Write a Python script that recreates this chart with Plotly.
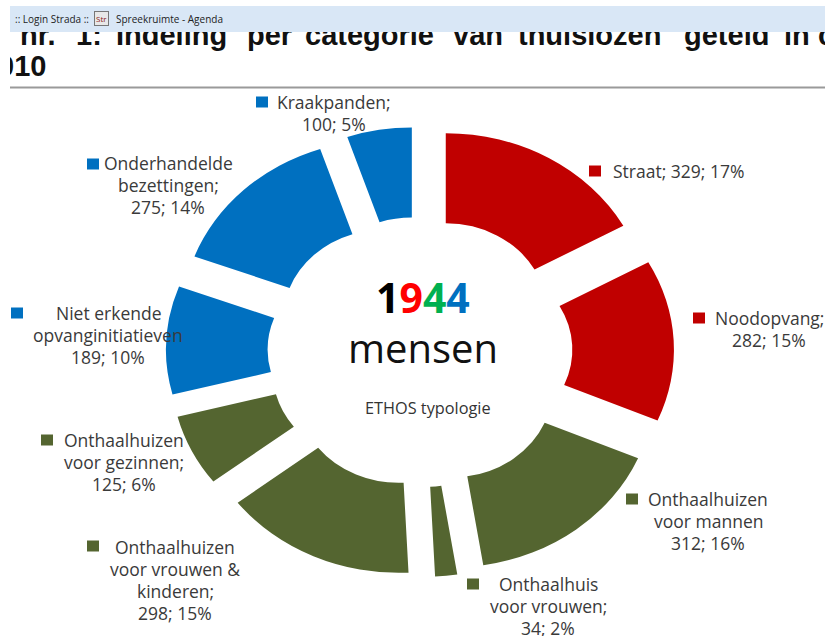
import plotly.graph_objects as go

categories = ["Straat", "Noodopvang", "Onthaalhuizen voor mannen", "Onthaalhuis voor vrouwen",
              "Onthaalhuizen voor vrouwen & kinderen", "Onthaalhuizen voor gezinnen",
              "Niet erkende opvanginitiatieven", "Onderhandelde bezettingen", "Kraakpanden"]
values = [329, 282, 312, 34, 298, 125, 189, 275, 100]
RED, GREEN, BLUE = "#C00000", "#546530", "#0070C0"
colors = [RED, RED, GREEN, GREEN, GREEN, GREEN, BLUE, BLUE, BLUE]

# label text, centre x, centre y, legend-square x, square y (pixels)
labels = [
    ("Straat; 329; 17%", 678, 171, 595, 171),
    ("Noodopvang;<br>282; 15%", 769, 329, 699, 318),
    ("Onthaalhuizen<br>voor mannen<br>312; 16%", 708, 521, 632, 499),
    ("Onthaalhuis<br>voor vrouwen;<br>34; 2%", 548, 606, 473, 584),
    ("Onthaalhuizen<br>voor vrouwen &<br>kinderen;<br>298; 15%", 175, 580, 93, 546),
    ("Onthaalhuizen<br>voor gezinnen;<br>125; 6%", 124, 462, 47, 440),
    ("Niet erkende<br>opvanginitiatieven<br>189; 10%", 108, 335, 17, 313),
    ("Onderhandelde<br>bezettingen;<br>275; 14%", 168, 185, 93, 164),
    ("Kraakpanden;<br>100; 5%", 334, 113, 262, 102),
]

heading_words = ["nr.", "1:", "Indeling", "per", "categorie", "van", "thuislozen", "geteld", "in", "c", "010"]
heading_x = [20, 76, 116, 247, 305, 453, 518, 684, 784, 818, -2]
heading_y = [38, 38, 38, 38, 38, 38, 38, 38, 38, 38, 69]

W, H = 825, 636
CX, CY, HALF = 420, 352, 240
SX, SY = 254 / 240, 225 / 240
TXT = "#3A3A3A"
FONT = "Open Sans"
LINE = 22

fig = go.Figure()
fig.add_trace(go.Scatter(x=heading_x, y=heading_y, text=heading_words, mode="text",
                         textposition="middle right", hoverinfo="skip", showlegend=False, cliponaxis=True,
                         textfont=dict(family="Liberation Sans", size=29, color="#111111", weight="bold")))
fig.add_trace(go.Pie(labels=categories, values=values, sort=False, direction="clockwise", rotation=0,
                     hole=0.5, pull=0.25, textinfo="none", showlegend=False,
                     marker=dict(colors=colors, line=dict(width=0)),
                     domain=dict(x=[(CX - HALF) / W, (CX + HALF) / W],
                                 y=[(H - CY - HALF) / H, (H - CY + HALF) / H])))

shapes = [
    dict(type="rect", x0=10, x1=825, y0=6, y1=32, fillcolor="#D9E7F6", line_width=0, layer="above"),
    dict(type="rect", x0=0, x1=10, y0=0, y1=636, fillcolor="white", line_width=0, layer="above"),
    dict(type="line", x0=10, x1=825, y0=87.5, y1=87.5, line=dict(color="#9A9A9A", width=2), layer="above"),
]
annotations = [
    dict(x=13, y=19, text=":: Login Strada ::", xanchor="left", font=dict(size=10, family="Open Sans", color="#222222")),
    dict(x=101, y=18, text="Str", font=dict(size=8, family="Open Sans", color="#8A2020"),
         bgcolor="#E8E8E8", bordercolor="#777777", borderwidth=1, borderpad=1),
    dict(x=114, y=19, text="Spreekruimte - Agenda", xanchor="left", font=dict(size=10, family="Open Sans", color="#222222")),
    dict(x=423, y=297, font=dict(size=41, family="Open Sans", color="black"),
         text="<b>1<span style='color:#FF0000'>9</span><span style='color:#00B050'>4</span>"
              "<span style='color:#0070C0'>4</span></b>"),
    dict(x=423, y=347, text="mensen", font=dict(size=40, family="Open Sans", color="#111111")),
    dict(x=428, y=408, text="ETHOS typologie", font=dict(size=16.3, family=FONT, color="#333333")),
]
for text, x, y, sx, sy in labels:
    rows = text.split("<br>")
    for i, row in enumerate(rows):
        annotations.append(dict(x=x, y=y + (i - (len(rows) - 1) / 2) * LINE, text=row,
                                font=dict(size=17.5, family=FONT, color=TXT)))

for (text, x, y, sx, sy), c in zip(labels, colors):
    shapes.append(dict(type="rect", x0=sx - 6, x1=sx + 6, y0=sy - 5.5, y1=sy + 5.5,
                       fillcolor=c, line_width=0, layer="above"))

for a in annotations:
    a.update(xref="x", yref="y", showarrow=False)

fig.update_layout(width=W, height=H, margin=dict(l=0, r=0, t=0, b=0),
                  paper_bgcolor="white", plot_bgcolor="white",
                  xaxis=dict(range=[0, W], visible=False, domain=[0, 1]),
                  yaxis=dict(range=[H, 0], visible=False, domain=[0, 1]),
                  shapes=shapes, annotations=annotations, showlegend=False)

post = f"""
document.body.style.margin='0';
document.body.style.overflow='hidden';
var g=document.querySelector('.pielayer');
if(g)g.setAttribute('transform','translate({CX},{CY}) scale({SX},{SY}) translate({-CX},{-CY})');
"""
fig.write_html("out.html", post_script=post, config=dict(displayModeBar=False))
